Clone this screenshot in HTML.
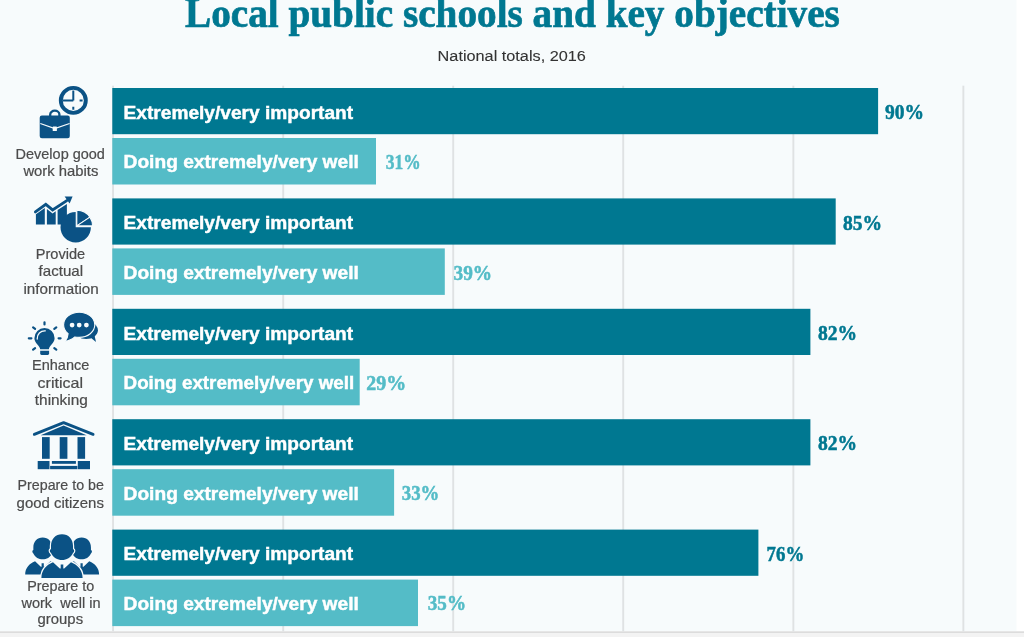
<!DOCTYPE html>
<html><head><meta charset="utf-8"><style>
html,body{margin:0;padding:0;width:1024px;height:637px;overflow:hidden;background:#fff}
svg{display:block;will-change:transform}
.bl{font-family:"Liberation Sans",sans-serif;font-weight:bold;font-size:18.8px;stroke-width:0.45px}
.pc{font-family:"Liberation Serif",serif;font-weight:bold;font-size:20px;stroke-width:0.5px}
.cl{font-family:"Liberation Sans",sans-serif;font-size:14.2px;stroke-width:0.2px}
.ti{font-family:"Liberation Serif",serif;font-weight:bold;font-size:41.5px;stroke-width:0.7px}
.st{font-family:"Liberation Sans",sans-serif;font-size:15.2px;stroke-width:0.1px}
</style></head><body>
<svg width="1024" height="637" viewBox="0 0 1024 637">
<rect x="0" y="0" width="1024" height="637" fill="#ffffff"/>
<rect x="0" y="0" width="1016.5" height="631.3" fill="#f7fbfc"/>
<rect x="0" y="631.3" width="1024" height="2" fill="#dcdcdc"/>
<rect x="0" y="633.3" width="1024" height="4" fill="#f3f3f3"/>
<rect x="112.1" y="85.7" width="1.9" height="545.6" fill="#dfe2e3"/>
<rect x="282.25" y="85.7" width="1.9" height="545.6" fill="#dfe2e3"/>
<rect x="452.25" y="85.7" width="1.9" height="545.6" fill="#dfe2e3"/>
<rect x="622.25" y="85.7" width="1.9" height="545.6" fill="#dfe2e3"/>
<rect x="792.4" y="85.7" width="1.9" height="545.6" fill="#dfe2e3"/>
<rect x="962.4" y="85.7" width="1.9" height="545.6" fill="#dfe2e3"/>
<rect x="112.3" y="88.00" width="765.80" height="46.2" fill="#007891"/>
<rect x="112.3" y="138.00" width="263.70" height="46.5" fill="#54bcc7"/>
<rect x="112.3" y="198.40" width="723.40" height="46.2" fill="#007891"/>
<rect x="112.3" y="248.40" width="332.50" height="46.5" fill="#54bcc7"/>
<rect x="112.3" y="308.80" width="698.10" height="46.2" fill="#007891"/>
<rect x="112.3" y="358.80" width="247.40" height="46.5" fill="#54bcc7"/>
<rect x="112.3" y="419.20" width="698.10" height="46.2" fill="#007891"/>
<rect x="112.3" y="469.20" width="281.80" height="46.5" fill="#54bcc7"/>
<rect x="112.3" y="529.60" width="646.10" height="46.2" fill="#007891"/>
<rect x="112.3" y="579.60" width="305.70" height="46.5" fill="#54bcc7"/>
<text x="185.00" y="26.60" class="ti" fill="#007891" stroke="#007891" textLength="654.84" lengthAdjust="spacingAndGlyphs">Local public schools and key objectives</text>
<text x="437.60" y="61.30" class="st" fill="#333333" stroke="#333333" textLength="148.27" lengthAdjust="spacingAndGlyphs">National totals, 2016</text>
<text x="123.60" y="118.70" class="bl" fill="#ffffff" stroke="#ffffff" textLength="229.54" lengthAdjust="spacingAndGlyphs">Extremely/very important</text>
<text x="123.60" y="168.40" class="bl" fill="#ffffff" stroke="#ffffff" textLength="235.21" lengthAdjust="spacingAndGlyphs">Doing extremely/very well</text>
<text x="885.00" y="119.20" class="pc" fill="#007891" stroke="#007891" textLength="39.00" lengthAdjust="spacingAndGlyphs">90%</text>
<text x="385.80" y="168.90" class="pc" fill="#54bcc7" stroke="#54bcc7" textLength="34.90" lengthAdjust="spacingAndGlyphs">31%</text>
<text x="15.60" y="159.15" class="cl" fill="#4c4c4c" stroke="#4c4c4c" textLength="89.31" lengthAdjust="spacingAndGlyphs">Develop good</text>
<text x="23.40" y="176.00" class="cl" fill="#4c4c4c" stroke="#4c4c4c" textLength="74.97" lengthAdjust="spacingAndGlyphs">work habits</text>
<text x="123.60" y="229.10" class="bl" fill="#ffffff" stroke="#ffffff" textLength="229.54" lengthAdjust="spacingAndGlyphs">Extremely/very important</text>
<text x="123.60" y="278.80" class="bl" fill="#ffffff" stroke="#ffffff" textLength="235.21" lengthAdjust="spacingAndGlyphs">Doing extremely/very well</text>
<text x="843.00" y="229.60" class="pc" fill="#007891" stroke="#007891" textLength="39.10" lengthAdjust="spacingAndGlyphs">85%</text>
<text x="453.60" y="279.50" class="pc" fill="#54bcc7" stroke="#54bcc7" textLength="38.50" lengthAdjust="spacingAndGlyphs">39%</text>
<text x="35.80" y="259.00" class="cl" fill="#4c4c4c" stroke="#4c4c4c" textLength="49.39" lengthAdjust="spacingAndGlyphs">Provide</text>
<text x="38.60" y="276.00" class="cl" fill="#4c4c4c" stroke="#4c4c4c" textLength="44.51" lengthAdjust="spacingAndGlyphs">factual</text>
<text x="23.40" y="293.60" class="cl" fill="#4c4c4c" stroke="#4c4c4c" textLength="75.45" lengthAdjust="spacingAndGlyphs">information</text>
<text x="123.60" y="339.50" class="bl" fill="#ffffff" stroke="#ffffff" textLength="229.54" lengthAdjust="spacingAndGlyphs">Extremely/very important</text>
<text x="123.60" y="389.20" class="bl" fill="#ffffff" stroke="#ffffff" textLength="230.51" lengthAdjust="spacingAndGlyphs">Doing extremely/very well</text>
<text x="818.00" y="340.00" class="pc" fill="#007891" stroke="#007891" textLength="39.10" lengthAdjust="spacingAndGlyphs">82%</text>
<text x="366.20" y="389.70" class="pc" fill="#54bcc7" stroke="#54bcc7" textLength="39.90" lengthAdjust="spacingAndGlyphs">29%</text>
<text x="32.00" y="370.40" class="cl" fill="#4c4c4c" stroke="#4c4c4c" textLength="57.27" lengthAdjust="spacingAndGlyphs">Enhance</text>
<text x="37.60" y="387.80" class="cl" fill="#4c4c4c" stroke="#4c4c4c" textLength="45.48" lengthAdjust="spacingAndGlyphs">critical</text>
<text x="34.80" y="404.60" class="cl" fill="#4c4c4c" stroke="#4c4c4c" textLength="53.06" lengthAdjust="spacingAndGlyphs">thinking</text>
<text x="123.60" y="449.90" class="bl" fill="#ffffff" stroke="#ffffff" textLength="229.54" lengthAdjust="spacingAndGlyphs">Extremely/very important</text>
<text x="123.60" y="499.60" class="bl" fill="#ffffff" stroke="#ffffff" textLength="235.21" lengthAdjust="spacingAndGlyphs">Doing extremely/very well</text>
<text x="818.00" y="450.30" class="pc" fill="#007891" stroke="#007891" textLength="39.10" lengthAdjust="spacingAndGlyphs">82%</text>
<text x="401.80" y="500.00" class="pc" fill="#54bcc7" stroke="#54bcc7" textLength="37.50" lengthAdjust="spacingAndGlyphs">33%</text>
<text x="17.60" y="490.40" class="cl" fill="#4c4c4c" stroke="#4c4c4c" textLength="86.33" lengthAdjust="spacingAndGlyphs">Prepare to be</text>
<text x="16.60" y="507.50" class="cl" fill="#4c4c4c" stroke="#4c4c4c" textLength="87.31" lengthAdjust="spacingAndGlyphs">good citizens</text>
<text x="123.60" y="560.30" class="bl" fill="#ffffff" stroke="#ffffff" textLength="229.54" lengthAdjust="spacingAndGlyphs">Extremely/very important</text>
<text x="123.60" y="610.00" class="bl" fill="#ffffff" stroke="#ffffff" textLength="235.21" lengthAdjust="spacingAndGlyphs">Doing extremely/very well</text>
<text x="766.60" y="560.50" class="pc" fill="#007891" stroke="#007891" textLength="37.60" lengthAdjust="spacingAndGlyphs">76%</text>
<text x="427.80" y="610.20" class="pc" fill="#54bcc7" stroke="#54bcc7" textLength="38.20" lengthAdjust="spacingAndGlyphs">35%</text>
<text x="27.20" y="590.80" class="cl" fill="#4c4c4c" stroke="#4c4c4c" textLength="67.08" lengthAdjust="spacingAndGlyphs">Prepare to</text>
<text x="21.40" y="607.60" class="cl" fill="#4c4c4c" stroke="#4c4c4c" textLength="79.13" lengthAdjust="spacingAndGlyphs">work  well in</text>
<text x="37.60" y="624.20" class="cl" fill="#4c4c4c" stroke="#4c4c4c" textLength="45.48" lengthAdjust="spacingAndGlyphs">groups</text>

<g fill="#0b5285">
 <!-- icon 1: clock + briefcase -->
 <circle cx="73.3" cy="100.4" r="12.5" fill="none" stroke="#0b5285" stroke-width="3.9"/>
 <path d="M73.3 100.5V90.6M73.3 100.5H62.6M79.6 100.5H82.6M73.3 106.7V109.7" stroke="#0b5285" stroke-width="2" fill="none"/>
 <path d="M50.2 116.5V114.5A4.6 3.8 0 0 1 59.4 114.5V116.5" stroke="#0b5285" stroke-width="2.3" fill="none"/>
 <rect x="39.7" y="115.6" width="30.1" height="22.6" rx="2.2"/>
 <path d="M40.3 123.5L54.8 128.6L69.6 123.5" stroke="#f7fbfc" stroke-width="1.3" fill="none"/>
 <rect x="52.7" y="126.4" width="4.2" height="4.5" rx="0.5" fill="#f7fbfc"/>

 <!-- icon 2: chart + pie -->
 <polyline points="35.4,211.9 45.8,204.4 52.6,209.9 66.8,200.6" fill="none" stroke="#0b5285" stroke-width="2.9" stroke-linecap="round" stroke-linejoin="miter"/>
 <polygon points="64.6,196.5 72.6,196.4 69.6,203.5"/>
 <polygon points="35.9,214.2 44.8,207.9 44.8,224.5 35.9,224.5"/>
 <polygon points="46.9,209.1 52.6,213.4 55.7,211.3 55.7,224.5 46.9,224.5"/>
 <polygon points="57.6,210.0 66.9,203.9 66.9,224.5 57.6,224.5"/>
 <path d="M75.7 227.3L75.7 212.1A15.2 15.2 0 1 0 90.9 227.3Z"/>
 <path d="M76.8 225.9L76.8 210.1A15.8 15.8 0 0 1 89.9 217.1Z" stroke="#f7fbfc" stroke-width="1.1" stroke-linejoin="round"/>
 <path d="M76.8 225.9L89.9 217.1A15.8 15.8 0 0 1 92.6 225.9Z" stroke="#f7fbfc" stroke-width="1.1" stroke-linejoin="round"/>

 <!-- icon 3: bulb + bubbles -->
 <path d="M44.5 322.3V324.4M28.8 338.3H31.4M58.6 338.3H60.6M33.1 327.3L35.1 328.8M56.3 327.3L54.3 328.8M33.1 349.6L35.1 348.1M56.3 349.6L54.3 348.1" stroke="#0b5285" stroke-width="2.2" stroke-linecap="round" fill="none"/>
 <path d="M40.2 349.3C40.0 345.8 34.4 343.2 34.4 338.2A10.1 10.1 0 0 1 54.6 338.2C54.6 343.2 49.0 345.8 48.9 349.3Z"/>
 <path d="M40.2 350.7H49.1V353.6Q49.1 354.9 47.8 354.9H41.5Q40.2 354.9 40.2 353.6Z"/>
 <path d="M37.2 339.0A7.6 7.6 0 0 1 45.3 330.8" stroke="#f7fbfc" stroke-width="1.3" fill="none" stroke-linecap="round"/>
 <ellipse cx="86.2" cy="330.3" rx="11.7" ry="8.6"/>
 <path d="M90.5 337.5L96.0 342.0L94.5 335.5Z"/>
 <g stroke="#f7fbfc" stroke-width="1.1">
 <path d="M79.2 312.2C87.8 312.2 94.8 317.84 94.8 324.8C94.8 331.76 87.8 337.4 79.2 337.4C77.5 337.4 76.2 337.3 74.8 337.0C72.3 339.2 69.2 340.9 65.2 341.2C66.8 339.2 67.9 336.9 68.1 333.6C65.2 331.5 63.6 328.3 63.6 324.8C63.6 317.84 70.6 312.2 79.2 312.2Z"/>
 </g>
 <circle cx="72.1" cy="325.1" r="2.4" fill="#f7fbfc"/>
 <circle cx="79.2" cy="325.1" r="2.4" fill="#f7fbfc"/>
 <circle cx="86.4" cy="325.1" r="2.4" fill="#f7fbfc"/>

 <!-- icon 4: building -->
 <polyline points="34.3,434.4 63.6,422.6 93.1,434.4" fill="none" stroke="#0b5285" stroke-width="2.8" stroke-linecap="round" stroke-linejoin="round"/>
 <polygon points="63.6,425.6 86.6,435.2 40.6,435.2"/>
 <rect x="42.0" y="437.1" width="7.7" height="21.7"/>
 <rect x="59.7" y="437.1" width="7.7" height="21.7"/>
 <rect x="77.5" y="437.1" width="7.6" height="21.7"/>
 <rect x="37.7" y="461.0" width="11.8" height="8.2"/>
 <rect x="77.8" y="461.0" width="12.2" height="8.2"/>
 <rect x="51.9" y="461.0" width="24.0" height="2.8"/>
 <rect x="50.1" y="465.9" width="27.3" height="3.3"/>
</g>
<defs>
 <g id="person">
  <path d="M0 0C6.5 0 11 4.7 11 11.7V14.7C12.6 15.2 12.6 17.7 11 18.7C9 23.2 4.5 25.7 0 25.7C-4.5 25.7 -9 23.2 -11 18.7C-12.6 17.7 -12.6 15.2 -11 14.7V11.7C-11 4.7 -6.5 0 0 0Z"/>
  <path d="M-20.6 43.6C-20.6 36.0 -16 30.7 -9 27.9L-2.2 34.3H-1.3V30.3H1.3V34.3H2.2L9 27.9C16 30.7 20.6 36.0 20.6 43.6Z"/>
 </g>
</defs>
<g fill="#0b5285">
 <use href="#person" transform="translate(42.7 537.5) scale(0.85)"/>
 <use href="#person" transform="translate(81.6 537.5) scale(0.85)"/>
 <use href="#person" transform="translate(62 534.3)" stroke="#f7fbfc" stroke-width="2.4" style="paint-order:stroke"/>
</g>

</svg>
</body></html>
